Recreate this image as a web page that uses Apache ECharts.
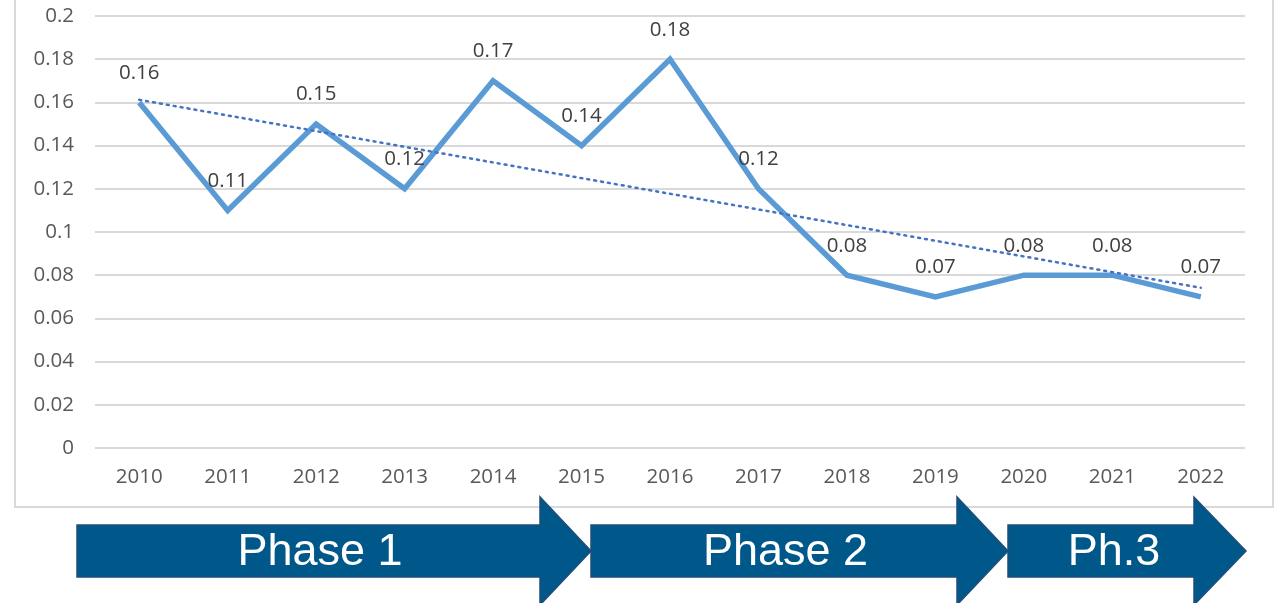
<!DOCTYPE html>
<html>
<head>
<meta charset="utf-8">
<style>
  html, body { margin: 0; padding: 0; background: #fff; }
  #chart { width: 1281px; height: 603px; }
</style>
<script src="https://cdn.jsdelivr.net/npm/echarts@6/dist/echarts.min.js"></script>
</head>
<body>
<div id="chart"></div>
<script>
const years = ["2010", "2011", "2012", "2013", "2014", "2015", "2016", "2017", "2018", "2019", "2020", "2021", "2022"];
const values = [0.16, 0.11, 0.15, 0.12, 0.17, 0.14, 0.18, 0.12, 0.08, 0.07, 0.08, 0.08, 0.07];
const yTicks = [0, 0.02, 0.04, 0.06, 0.08, 0.1, 0.12, 0.14, 0.16, 0.18, 0.2];
const phases = ["Phase 1", "Phase 2", "Ph.3"];

// linear trendline (least squares over the series)
function trend(vals) {
    const n = vals.length;
    const mx = (n - 1) / 2;
    const my = vals.reduce((a, b) => a + b, 0) / n;
    let sxy = 0, sxx = 0;
    vals.forEach((v, i) => {
        sxy += (i - mx) * (v - my);
        sxx += (i - mx) * (i - mx);
    });
    const k = sxy / sxx;
    return vals.map((v, i) => my + k * (i - mx));
}
const trendValues = trend(values);

const chart = echarts.init(document.getElementById("chart"));
const font = "'Open Sans', 'Liberation Sans', sans-serif";

// arrow shapes for the phase bar: [bodyLeft, headStart, tip]
const arrowX = [
    [77, 540, 591],
    [591, 957, 1008],
    [1008, 1194, 1246],
];
const bodyTop = 525, bodyBottom = 577, headTop = 497, headBottom = 605, tipY = 551;

const graphics = [
    {
        type: "rect",
        shape: { x: 15, y: -5, width: 1258, height: 512 },
        style: { fill: "none", stroke: "#d9d9d9", lineWidth: 2 },
        silent: true,
        z: 0,
    },
];
arrowX.forEach(function (a, i) {
    graphics.push({
        type: "polygon",
        shape: {
            points: [
                [a[0], bodyTop],
                [a[1], bodyTop],
                [a[1], headTop],
                [a[2], tipY],
                [a[1], headBottom],
                [a[1], bodyBottom],
                [a[0], bodyBottom],
            ],
        },
        style: { fill: "#00578a", stroke: "#1f4e79", lineWidth: 1.5 },
        z: 10,
    });
    graphics.push({
        type: "text",
        x: (a[0] + a[2]) / 2 - (i === 2 ? 13 : 14),
        y: tipY + 2,
        style: {
            text: phases[i],
            fill: "#ffffff",
            font: "45px 'Liberation Sans', Arial, sans-serif",
            align: "center",
            verticalAlign: "middle",
        },
        z: 11,
    });
});

chart.setOption({
    animation: false,
    grid: { left: 95, right: 36, top: 16, bottom: 155 },
    xAxis: {
        type: "category",
        data: years,
        boundaryGap: true,
        axisLine: { show: false },
        axisTick: { show: false },
        axisLabel: { color: "#595959", fontSize: 20.5, fontFamily: font, margin: 19 },
    },
    yAxis: {
        type: "value",
        min: yTicks[0],
        max: yTicks[yTicks.length - 1],
        interval: 0.02,
        axisLine: { show: false },
        axisTick: { show: false },
        axisLabel: {
            color: "#595959",
            fontSize: 20.5,
            fontFamily: font,
            margin: 21,
            formatter: function (v) { return String(parseFloat(v.toFixed(2))); },
        },
        splitLine: { lineStyle: { color: "#d9d9d9", width: 2 } },
    },
    series: [
        {
            name: "value",
            type: "line",
            data: values,
            symbol: "circle",
            symbolSize: 0,
            showSymbol: true,
            lineStyle: { color: "#5b9bd5", width: 5.5, join: "miter" },
            itemStyle: { color: "#5b9bd5" },
            label: {
                show: true,
                position: "top",
                distance: 19,
                color: "#404040",
                fontSize: 20.5,
                fontFamily: font,
                formatter: function (p) { return String(p.value); },
            },
            labelLayout: { hideOverlap: false },
            z: 2,
        },
        {
            name: "trend",
            type: "line",
            data: trendValues,
            symbol: "none",
            lineStyle: { color: "#4472c4", width: 2.5, type: [2, 5], cap: "round" },
            z: 3,
            silent: true,
        },
    ],
    graphic: graphics,
});
</script>
</body>
</html>
